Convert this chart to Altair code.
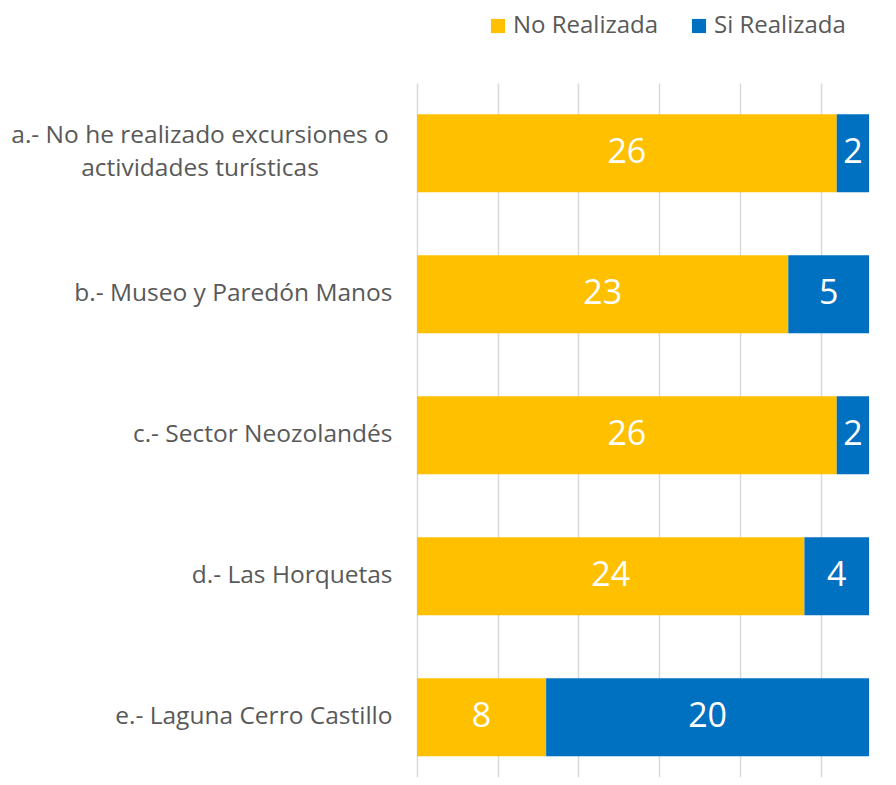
import altair as alt
import pandas as pd

categories = [
    "a.- No he realizado excursiones o actividades turísticas",
    "b.- Museo y Paredón Manos",
    "c.- Sector Neozolandés",
    "d.- Las Horquetas",
    "e.- Laguna Cerro Castillo",
]
label_a_lines = ["a.- No he realizado excursiones o ", "actividades turísticas"]
series = ["No Realizada", "Si Realizada"]
no_realizada = [26, 23, 26, 24, 8]
si_realizada = [2, 5, 2, 4, 20]
colors = ["#FFC000", "#0070C0"]

rows = []
for i, c in enumerate(categories):
    rows.append({"cat": c, "serie": series[0], "value": no_realizada[i], "ord": 0})
    rows.append({"cat": c, "serie": series[1], "value": si_realizada[i], "ord": 1})
df = pd.DataFrame(rows)

FONT = "Open Sans"
GRAY = "#595959"
LFS = 24.5

yscale = alt.Scale(domain=categories, paddingInner=0.447, paddingOuter=0.1845, align=0.6)
xscale = alt.Scale(domain=[0, 28], nice=False, zero=True)

base = alt.Chart(df)

bars = base.mark_bar().encode(
    y=alt.Y("cat:N", sort=categories, scale=yscale, title=None,
            axis=alt.Axis(labelExpr="indexof(datum.value, 'a.-') == 0 ? '' : datum.value",
                          labelFontSize=LFS, labelColor=GRAY, labelFont=FONT,
                          labelPadding=25, ticks=False, domain=False, grid=False,
                          labelLimit=0)),
    x=alt.X("value:Q", stack="zero", scale=xscale, title=None,
            axis=alt.Axis(values=[0, 5, 10, 15, 20, 25], labels=False, ticks=False,
                          domain=False, grid=True, gridColor="#D9D9D9", gridWidth=1.5)),
    color=alt.Color("serie:N", scale=alt.Scale(domain=series, range=colors),
                    legend=alt.Legend(title=None, orient="none", direction="horizontal",
                                      legendX=69, legendY=-69, symbolType="square",
                                      symbolSize=200, symbolStrokeWidth=0,
                                      labelFontSize=24, labelFont=FONT, labelColor=GRAY,
                                      labelLimit=0, columnPadding=28, labelOffset=3,
                                      padding=0)),
    order=alt.Order("ord:Q"),
)

text = base.transform_stack(
    stack="value", groupby=["cat"], as_=["x0", "x1"], sort=[alt.SortField("ord")]
).transform_calculate(mid="(datum.x0 + datum.x1) / 2").mark_text(
    color="white", fontSize=34, font=FONT, baseline="middle", align="center"
).encode(
    y=alt.Y("cat:N", sort=categories, scale=yscale),
    x=alt.X("mid:Q", scale=xscale),
    text="value:Q",
)

label_a = alt.Chart(pd.DataFrame({"cat": [categories[0]]})).mark_text(
    text=label_a_lines, align="center", baseline="middle", fontSize=LFS, font=FONT,
    color=GRAY, lineHeight=33, dy=-17,
).encode(
    y=alt.Y("cat:N", sort=categories, scale=yscale),
    x=alt.value(-217),
)

chart = alt.layer(bars, text, label_a).properties(
    width=452, height=694,
    autosize=alt.AutoSizeParams(type="none"),
    padding={"left": 409, "top": 75, "right": 19, "bottom": 0},
).configure_view(stroke=None)

chart.save("out.html", embed_options={"renderer": "svg", "actions": False})
